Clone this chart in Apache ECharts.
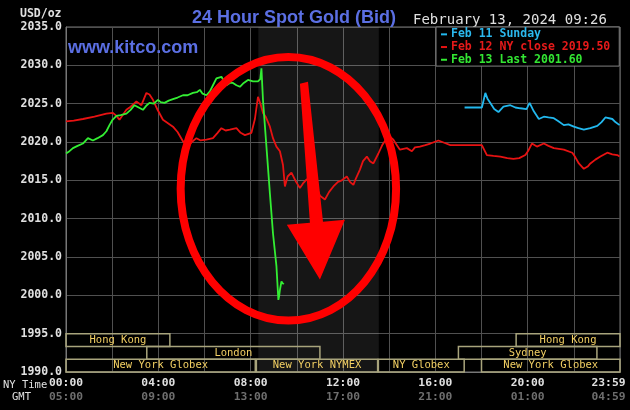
<!DOCTYPE html>
<html>
<head>
<meta charset="utf-8">
<script src="https://cdn.jsdelivr.net/npm/echarts@6/dist/echarts.min.js"></script>
<style>
html,body{margin:0;padding:0;background:#000;}
#c{width:630px;height:410px;}
</style>
</head>
<body>
<div id="c"></div>
<script>
// ---- data (minutes after NY midnight, price) ----
const redMin = [0,20,44,74,105,122,131,139,157,168,183,196,209,217,226,238,252,278,290,304,317,327,339,350,365,382,394,404,415,426,443,454,465,482,491,499,506,512,519,530,538,547,556,564,569,576,586,598,608,616,625,643,652,660,673,684,695,707,717,730,738,747,754,764,772,782,790,799,812,822,834,842,851,861,868,886,899,907,920,934,947,968,983,999,1038,1081,1094,1111,1129,1147,1163,1178,1194,1202,1211,1224,1242,1254,1268,1294,1316,1324,1333,1346,1356,1363,1376,1389,1407,1420,1433,1439];
const redVal = [2022.7,2022.8,2023.0,2023.3,2023.7,2023.8,2023.4,2022.9,2024.2,2024.6,2025.3,2024.8,2026.4,2026.2,2025.5,2024.2,2022.9,2022.0,2021.3,2020.1,2019.5,2020.0,2020.5,2020.2,2020.3,2020.5,2021.2,2021.8,2021.5,2021.6,2021.8,2021.2,2020.9,2021.2,2023.0,2025.9,2024.9,2023.8,2023.3,2022.0,2020.5,2019.4,2018.8,2017.0,2014.2,2015.5,2016.0,2014.8,2014.0,2014.6,2015.1,2015.5,2014.0,2013.0,2012.5,2013.5,2014.2,2014.8,2015.0,2015.5,2014.8,2014.4,2015.3,2016.4,2017.5,2018.1,2017.5,2017.2,2018.5,2019.6,2020.5,2020.7,2020.3,2019.5,2019.0,2019.2,2018.8,2019.3,2019.4,2019.6,2019.8,2020.2,2019.9,2019.6,2019.6,2019.6,2018.3,2018.2,2018.1,2017.9,2017.8,2017.9,2018.3,2018.9,2019.8,2019.4,2019.8,2019.5,2019.2,2019.0,2018.6,2018.0,2017.2,2016.5,2016.8,2017.2,2017.7,2018.1,2018.6,2018.4,2018.3,2018.1];

const blueMin = [1036,1081,1090,1096,1103,1113,1124,1137,1155,1168,1181,1197,1205,1216,1229,1242,1254,1268,1280,1294,1306,1320,1332,1346,1363,1381,1392,1402,1420,1428,1439];
const blueVal = [2024.5,2024.5,2026.4,2025.6,2025.1,2024.3,2023.9,2024.6,2024.8,2024.5,2024.4,2024.3,2025.1,2024.0,2023.0,2023.3,2023.2,2023.1,2022.7,2022.2,2022.3,2022.0,2021.8,2021.6,2021.8,2022.1,2022.6,2023.2,2023.0,2022.6,2022.2];

const greenMin = [0,9,18,30,44,57,70,82,96,105,113,121,131,142,157,168,178,189,200,210,217,228,239,246,256,267,278,290,304,316,330,340,348,355,365,374,382,391,404,410,417,426,434,443,452,462,473,486,499,505,508,512,521,530,538,547,552,554,556,560,564,566];
const greenVal = [2018.5,2018.8,2019.2,2019.5,2019.8,2020.5,2020.2,2020.5,2020.9,2021.4,2022.2,2022.9,2023.4,2023.5,2023.7,2024.2,2024.8,2024.5,2024.2,2024.8,2025.1,2025.0,2025.5,2025.2,2025.1,2025.4,2025.6,2025.8,2026.1,2026.1,2026.4,2026.5,2026.8,2026.3,2026.1,2026.6,2027.4,2028.3,2028.5,2028.0,2027.4,2027.7,2027.7,2027.4,2027.2,2027.7,2028.1,2027.9,2027.9,2028.2,2029.6,2025.5,2019.4,2013.3,2008.1,2003.8,1999.4,1999.9,2000.7,2001.8,2001.5,2001.6];

const seriesNames = ['Feb 11 Sunday', 'Feb 12 NY close 2019.50', 'Feb 13 Last 2001.60'];

const sessionNames = ['Hong Kong','London','New York Globex','New York NYMEX','NY Globex','Sydney','Hong Kong','New York Globex'];
const sessionStart = [0,210,0,495,812,1020,1170,1080];
const sessionEnd   = [270,660,492,810,1035,1380,1440,1440];
const sessionRow   = [0,1,2,2,2,1,0,2];

const pitStart = 500, pitEnd = 813;

const xTicks = [0,240,480,720,960,1200,1440];
const nyLabels  = ['00:00','04:00','08:00','12:00','16:00','20:00','23:59'];
const gmtLabels = ['05:00','09:00','13:00','17:00','21:00','01:00','04:59'];

// annotation (in data space: minutes, price)
const ellipseCenter = [578, 2013.9];
const ellipseRadius = [280, 17.19];
const arrowMin = [608, 629, 668, 725, 660, 574, 634];
const arrowVal = [2027.6, 2027.85, 2009.6, 2009.86, 2002.05, 2009.21, 2009.47];

// ---- chart ----
const MONO = '"DejaVu Sans Mono", monospace';
const SANS = '"Liberation Sans", Arial, sans-serif';
const zip = (a, b) => a.map((v, i) => [v, b[i]]);
const chart = echarts.init(document.getElementById('c'), null, {renderer: 'canvas'});

const textGraphics = [
  {type: 'text', left: 20, top: 8, style: {text: 'USD/oz', fill: '#e0e0e0', font: 'bold 11.5px ' + MONO}},
  {type: 'text', left: 68, top: 39, style: {text: 'www.kitco.com', fill: '#5b6fe3', font: 'bold 18px ' + SANS}},
  {type: 'text', left: 413, top: 13, style: {text: 'February 13, 2024 09:26', fill: '#e0e0e0', font: '14px ' + MONO}},
  {type: 'text', left: 3, top: 380, style: {text: 'NY Time', fill: '#e0e0e0', font: '10.5px ' + MONO}},
  {type: 'text', left: 12, top: 392, style: {text: 'GMT', fill: '#e0e0e0', font: '10.5px ' + MONO}}
];

const option = {
  backgroundColor: '#000',
  animation: false,
  title: {
    text: '24 Hour Spot Gold (Bid)',
    left: 187, top: 4,
    textStyle: {color: '#5b6fe3', fontSize: 18, fontWeight: 'bold', fontFamily: SANS}
  },
  legend: {
    left: 436, top: 27, orient: 'vertical',
    backgroundColor: '#000', borderColor: '#808080', borderWidth: 1,
    padding: [1, 9, 0, 5], itemGap: 0,
    icon: 'rect', itemWidth: 6, itemHeight: 2,
    textStyle: {fontFamily: MONO, fontSize: 11.5, fontWeight: 'bold', lineHeight: 12.7, padding: [0,0,0,-1]},
    data: [
      {name: seriesNames[0], textStyle: {color: '#2bb8ee'}},
      {name: seriesNames[1], textStyle: {color: '#e61a1a'}},
      {name: seriesNames[2], textStyle: {color: '#33e633'}}
    ],
    selectedMode: false
  },
  grid: {left: 66, right: 10, top: 27, bottom: 38, show: true, borderColor: '#777', borderWidth: 1,
         backgroundColor: 'transparent', containLabel: false, outerBoundsMode: 'none'},
  xAxis: {
    type: 'value', min: 0, max: 1440, interval: 120,
    axisLine: {show: true, lineStyle: {color: '#777'}},
    axisTick: {show: false},
    splitLine: {show: true, lineStyle: {color: '#505050', width: 1}},
    axisLabel: {
      showMaxLabel: true, showMinLabel: true, margin: 4,
      formatter: function (v) {
        const i = xTicks.indexOf(v);
        if (i < 0) return '';
        if (i === xTicks.length - 1) return '{ae|' + nyLabels[i] + '}\n{be|' + gmtLabels[i] + '}';
        return '{a|' + nyLabels[i] + '}\n{b|' + gmtLabels[i] + '}';
      },
      rich: {
        a: {color: '#e0e0e0', fontFamily: MONO, fontSize: 11.3, fontWeight: 'bold', lineHeight: 14},
        b: {color: '#6e6e6e', fontFamily: MONO, fontSize: 11.3, fontWeight: 'bold', lineHeight: 14},
        ae: {color: '#e0e0e0', fontFamily: MONO, fontSize: 11.3, fontWeight: 'bold', lineHeight: 14, padding: [0, 23, 0, 0]},
        be: {color: '#6e6e6e', fontFamily: MONO, fontSize: 11.3, fontWeight: 'bold', lineHeight: 14, padding: [0, 23, 0, 0]}
      }
    }
  },
  yAxis: {
    type: 'value', min: 1990, max: 2035, interval: 5,
    axisLine: {show: true, lineStyle: {color: '#777'}},
    axisTick: {show: false},
    splitLine: {show: true, lineStyle: {color: '#505050', width: 1}},
    axisLabel: {
      margin: 4, color: '#e0e0e0', fontFamily: MONO, fontSize: 11.5, fontWeight: 'bold',
      formatter: v => v.toFixed(1)
    }
  },
  series: [
    {
      name: seriesNames[0], type: 'line', showSymbol: false, symbol: 'none',
      data: zip(blueMin, blueVal), lineStyle: {color: '#22b8ee', width: 1.8}, itemStyle: {color: '#22b8ee'}, z: 3
    },
    {
      name: seriesNames[1], type: 'line', showSymbol: false, symbol: 'none',
      data: zip(redMin, redVal), lineStyle: {color: '#e81212', width: 1.8}, itemStyle: {color: '#e81212'}, z: 3,
      markArea: {silent: true, itemStyle: {color: 'rgba(255,255,255,0.085)'}, data: [[{xAxis: pitStart}, {xAxis: pitEnd}]]}
    },
    {
      name: seriesNames[2], type: 'line', showSymbol: false, symbol: 'none',
      data: zip(greenMin, greenVal), lineStyle: {color: '#33ee33', width: 1.8}, itemStyle: {color: '#33ee33'}, z: 4
    },
    {
      name: 'sessions', type: 'custom', clip: false, silent: true, z: 5,
      data: sessionNames.map((n, i) => [sessionStart[i], sessionEnd[i], sessionRow[i], n]),
      renderItem: function (params, api) {
        const s = api.value(0), e = api.value(1), row = api.value(2);
        const name = sessionNames[params.dataIndex];
        const rowH = 5 / 3;
        const top = 1995 - row * rowH, bot = top - rowH;
        const p1 = api.coord([s, top]), p2 = api.coord([e, bot]);
        return {
          type: 'group',
          children: [
            {type: 'rect', shape: {x: p1[0], y: p1[1], width: p2[0] - p1[0], height: p2[1] - p1[1]},
             style: {fill: 'none', stroke: '#a8a47c', lineWidth: 1.5}},
            {type: 'text', style: {text: name, x: (p1[0] + p2[0]) / 2, y: (p1[1] + p2[1]) / 2,
             align: 'center', verticalAlign: 'middle', fill: '#f2cf63', font: '10.5px ' + MONO}}
          ]
        };
      },
      encode: {x: [0, 1], y: 2}
    }
  ],
  graphic: textGraphics
};
chart.setOption(option);

// annotation overlay positioned through the chart's scales
const c0 = chart.convertToPixel({gridIndex: 0}, ellipseCenter);
const cR = chart.convertToPixel({gridIndex: 0}, [ellipseCenter[0] + ellipseRadius[0], ellipseCenter[1] + ellipseRadius[1]]);
const arrowPts = arrowMin.map((m, i) => chart.convertToPixel({gridIndex: 0}, [m, arrowVal[i]]));
chart.setOption({
  graphic: textGraphics.concat([
    {type: 'ellipse', z: 100, silent: true,
     shape: {cx: c0[0], cy: c0[1], rx: Math.abs(cR[0] - c0[0]), ry: Math.abs(cR[1] - c0[1])},
     style: {fill: 'none', stroke: '#ff0000', lineWidth: 8}},
    {type: 'polygon', z: 101, silent: true, shape: {points: arrowPts}, style: {fill: '#ff0000'}}
  ])
}, {replaceMerge: ['graphic']});
</script>
</body>
</html>
